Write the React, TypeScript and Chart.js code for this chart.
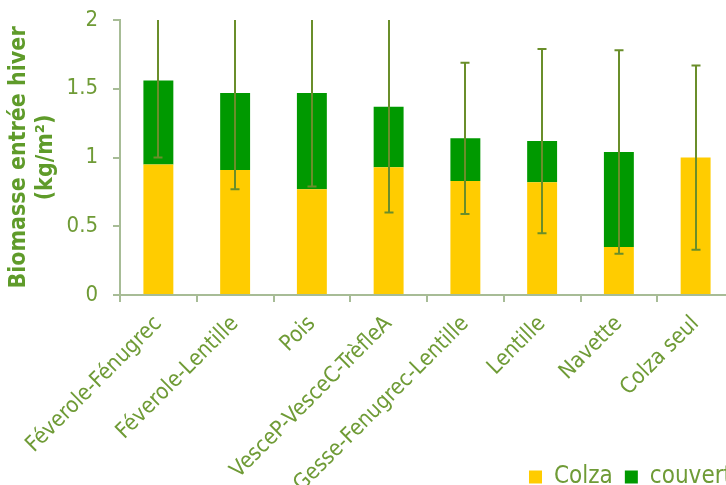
import React, { useEffect, useRef } from 'react';
import { Chart, registerables } from 'chart.js';

Chart.register(...registerables);

const categories = [
  'Féverole-Fénugrec',
  'Féverole-Lentille',
  'Pois',
  'VesceP-VesceC-TrèfleA',
  'Gesse-Fenugrec-Lentille',
  'Lentille',
  'Navette',
  'Colza seul',
];
const colza = [0.95, 0.91, 0.77, 0.93, 0.83, 0.82, 0.35, 1.0];
const couvert = [0.61, 0.56, 0.7, 0.44, 0.31, 0.3, 0.69, 0];
const errors = [0.56, 0.7, 0.68, 0.77, 0.55, 0.67, 0.74, 0.67];
const yTickValues = [0, 0.5, 1, 1.5, 2];
const seriesNames = ['Colza', 'couvert'];
const yTitle = ['Biomasse entrée hiver', '(kg/m²)'];

const FONT = "'DejaVu Sans Condensed', 'Liberation Sans Narrow', 'DejaVu Sans', sans-serif";
const AXIS_COLOR = '#a7bc96';
const LABEL_COLOR = '#6f9b36';
const TITLE_COLOR = '#5f9b2a';
const ERR_COLOR = '#6a8e2a';
const PLOT_TOP = 20;
const PLOT_BOTTOM = 295;
const BOTTOM_PAD = -14;
const CANVAS_W = 763;
const CANVAS_H = 485;
const PLOT_RIGHT_PAD = 29;

const errorBarPlugin = {
  id: 'errorBars',
  beforeDraw(chart: any) {
    const xs = chart.scales.x;
    if (xs) xs._computeLabelArea = () => undefined;
  },
  afterDatasetsDraw(chart: any) {
    const { ctx, chartArea } = chart;
    const yScale = chart.scales.y;
    const meta = chart.getDatasetMeta(0);
    ctx.save();
    ctx.beginPath();
    ctx.rect(chartArea.left, chartArea.top, chartArea.right - chartArea.left, chartArea.bottom - chartArea.top);
    ctx.clip();
    ctx.strokeStyle = ERR_COLOR;
    ctx.lineWidth = 2;
    meta.data.forEach((bar: any, i: number) => {
      const total = colza[i] + couvert[i];
      const yTop = yScale.getPixelForValue(total + errors[i]);
      const yBot = yScale.getPixelForValue(total - errors[i]);
      const x = Math.round(bar.x);
      ctx.beginPath();
      ctx.moveTo(x, yTop);
      ctx.lineTo(x, yBot);
      ctx.moveTo(x - 4.5, yTop);
      ctx.lineTo(x + 4.5, yTop);
      ctx.moveTo(x - 4.5, yBot);
      ctx.lineTo(x + 4.5, yBot);
      ctx.stroke();
    });
    ctx.restore();
  },
};

export default function App() {
  const ref = useRef<HTMLCanvasElement>(null);
  useEffect(() => {
    document.body.style.margin = '0';
    document.body.style.overflow = 'hidden';
    const chart = new Chart(ref.current!, {
      type: 'bar',
      data: {
        labels: categories,
        datasets: [
          { label: seriesNames[0], data: colza, backgroundColor: '#ffcc00', borderWidth: 0 },
          { label: seriesNames[1], data: couvert, backgroundColor: '#009900', borderWidth: 0 },
        ],
      },
      options: {
        responsive: false,
        animation: false,
        devicePixelRatio: 1,
        layout: { padding: { top: 0, right: 19, left: 0, bottom: BOTTOM_PAD } },
        datasets: { bar: { categoryPercentage: 1, barPercentage: 0.39 } },
        plugins: {
          tooltip: { enabled: false },
          legend: {
            position: 'bottom',
            align: 'end',
            labels: {
              boxWidth: 13,
              boxHeight: 13,
              padding: 12,
              color: LABEL_COLOR,
              font: { family: FONT, size: 24 },
            },
          },
        },
        scales: {
          x: {
            stacked: true,
            border: { color: AXIS_COLOR, width: 2 },
            grid: { drawOnChartArea: false, drawTicks: true, tickLength: 7, color: AXIS_COLOR, lineWidth: 2 },
            ticks: {
              autoSkip: false,
              maxRotation: 45,
              minRotation: 45,
              padding: 9,
              color: LABEL_COLOR,
              font: { family: FONT, size: 22 },
            },
            afterFit(scale: any) {
              scale.paddingLeft = 0;
              scale.paddingRight = PLOT_RIGHT_PAD;
              const legH = scale.chart.legend ? scale.chart.legend.height : 45;
              scale.height = Math.max(10, scale.chart.height - BOTTOM_PAD - legH - PLOT_BOTTOM);
            },
          },
          y: {
            stacked: true,
            min: 0,
            max: 2,
            border: { color: AXIS_COLOR, width: 2 },
            grid: { drawOnChartArea: false, drawTicks: true, tickLength: 7, color: AXIS_COLOR, lineWidth: 2 },
            afterBuildTicks(scale: any) {
              scale.ticks = yTickValues.map((v) => ({ value: v }));
            },
            ticks: {
              padding: 15,
              color: LABEL_COLOR,
              font: { family: FONT, size: 22 },
              callback: (v: any) => String(v),
            },
            title: {
              display: true,
              text: yTitle,
              color: TITLE_COLOR,
              font: { family: FONT, size: 23, weight: 'bold', lineHeight: 1.2 },
              padding: { top: 5, bottom: 0 },
            },
            afterFit(scale: any) {
              scale.width = 120;
              scale.paddingTop = PLOT_TOP;
              scale.paddingBottom = 0;
            },
          },
        },
      },
      plugins: [errorBarPlugin],
    } as any);
    return () => chart.destroy();
  }, []);
  return (
    <div style={{ position: 'fixed', left: 0, top: 0, width: CANVAS_W, height: CANVAS_H }}>
      <canvas ref={ref} width={CANVAS_W} height={CANVAS_H} style={{ width: CANVAS_W, height: CANVAS_H }} />
    </div>
  );
}
